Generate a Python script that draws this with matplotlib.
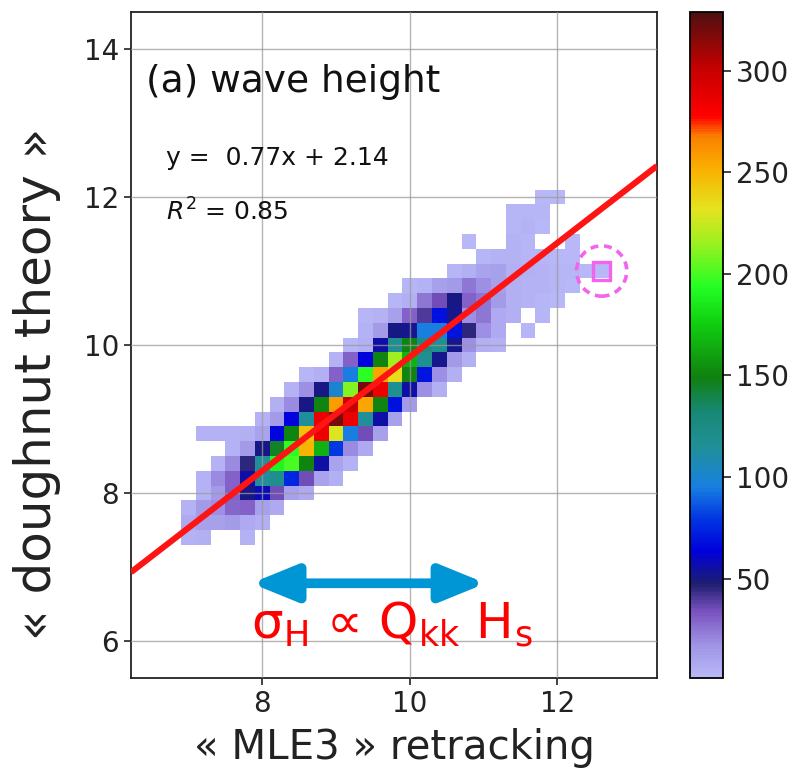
import numpy as np
import matplotlib
matplotlib.use("Agg")
import matplotlib.pyplot as plt
from matplotlib.colors import LinearSegmentedColormap, Normalize
from matplotlib.patches import Ellipse, Rectangle, FancyArrowPatch

# ---------------- data ----------------
# bin centres (0.2 bins)
x_centers = np.round(6.8 + 0.2 * np.arange(30), 1)   # 6.8 ... 12.6
y_centers = np.round(7.4 + 0.2 * np.arange(24), 1)   # 7.4 ... 12.0

# counts per bin, rows listed from top (y=12.0) to bottom (y=7.4)
counts_top_down = [
    [0,0,0,0,0, 0,0,0,0,0, 0,0,0,0,0, 0,0,0,0,0, 0,0,0,0,0, 2,2,0,0,0],
    [0,0,0,0,0, 0,0,0,0,0, 0,0,0,0,0, 0,0,0,0,0, 0,0,0,3,3, 3,0,0,0,0],
    [0,0,0,0,0, 0,0,0,0,0, 0,0,0,0,0, 0,0,0,0,0, 0,0,0,3,4, 2,0,0,0,0],
    [0,0,0,0,0, 0,0,0,0,0, 0,0,0,0,0, 0,0,0,0,0, 2,0,0,4,3, 0,0,2,0,0],
    [0,0,0,0,0, 0,0,0,0,0, 0,0,0,0,0, 0,0,0,0,0, 0,3,4,4,3, 3,2,2,0,0],
    [0,0,0,0,0, 0,0,0,0,0, 0,0,0,0,0, 0,0,0,0,3, 5,10,12,6,5, 4,3,3,2,2],
    [0,0,0,0,0, 0,0,0,0,0, 0,0,0,0,0, 0,3,4,12,15, 25,18,12,6,4, 4,3,2,0,0],
    [0,0,0,0,0, 0,0,0,0,0, 0,0,0,0,0, 3,5,25,35,50, 30,25,15,6,4, 3,2,0,0,0],
    [0,0,0,0,0, 0,0,0,0,0, 0,0,0,3,4, 12,30,40,68,52, 18,25,8,5,0, 3,0,0,0,0],
    [0,0,0,0,0, 0,0,0,0,0, 0,0,0,4,15, 50,52,95,95,70, 45,18,8,0,3, 0,0,0,0,0],
    [0,0,0,0,0, 0,0,0,0,0, 0,0,3,6,55, 118,150,125,118,52, 18,6,4,0,0, 0,0,0,0,0],
    [0,0,0,0,0, 0,0,0,0,0, 0,4,30,65,150, 215,165,118,52,15, 5,0,0,0,0, 0,0,0,0,0],
    [0,0,0,0,0, 0,0,0,0,3, 5,30,95,195,255, 235,150,70,18,5, 0,0,0,0,0, 0,0,0,0,0],
    [0,0,0,0,0, 0,0,0,4,18, 50,100,210,320,285, 118,55,18,6,0, 0,0,0,0,0, 0,0,0,0,0],
    [0,0,0,0,0, 0,0,5,20,50, 150,258,300,255,150, 68,15,0,0,0, 0,0,0,0,0, 0,0,0,0,0],
    [0,0,0,0,0, 0,4,15,65,115, 285,320,285,115,55, 12,0,0,0,0, 0,0,0,0,0, 0,0,0,0,0],
    [0,0,4,4,4, 5,10,65,150,245, 285,230,95,35,12, 0,0,0,0,0, 0,0,0,0,0, 0,0,0,0,0],
    [0,0,0,0,4, 15,50,145,195,250, 165,80,20,8,0, 0,0,0,0,0, 0,0,0,0,0, 0,0,0,0,0],
    [0,0,0,4,20, 45,115,190,200,150, 55,10,4,0,0, 0,0,0,0,0, 0,0,0,0,0, 0,0,0,0,0],
    [0,0,4,20,30, 55,115,120,75,35, 10,5,0,0,0, 0,0,0,0,0, 0,0,0,0,0, 0,0,0,0,0],
    [0,0,4,15,30, 50,58,35,12,8, 0,0,0,0,0, 0,0,0,0,0, 0,0,0,0,0, 0,0,0,0,0],
    [0,4,15,18,28, 30,12,8,0,0, 0,0,0,0,0, 0,0,0,0,0, 0,0,0,0,0, 0,0,0,0,0],
    [0,8,12,12,15, 8,5,0,0,0, 0,0,0,0,0, 0,0,0,0,0, 0,0,0,0,0, 0,0,0,0,0],
    [0,4,5,0,0, 4,0,0,0,0, 0,0,0,0,0, 0,0,0,0,0, 0,0,0,0,0, 0,0,0,0,0],
]

fit_slope = 0.77
fit_intercept = 2.14
r_squared = 0.85

x_ticks = [8, 10, 12]
y_ticks = [6, 8, 10, 12, 14]
cbar_ticks = [50, 100, 150, 200, 250, 300]
count_min, count_max = 1, 329

highlight_x, highlight_y = 12.6, 11.0
arrow_x_start, arrow_x_end, arrow_y = 7.85, 11.03, 6.78

# ---------------- colormap ----------------
cmap_stops = [
    (0.000, (184, 184, 248)),
    (0.049, (158, 146, 228)),
    (0.098, (122, 82, 192)),
    (0.140, (30, 30, 112)),
    (0.189, (0, 0, 220)),
    (0.235, (0, 50, 226)),
    (0.287, (24, 128, 224)),
    (0.348, (32, 144, 150)),
    (0.399, (24, 136, 118)),
    (0.451, (16, 128, 16)),
    (0.534, (16, 208, 16)),
    (0.588, (36, 255, 36)),
    (0.656, (160, 240, 32)),
    (0.704, (228, 228, 32)),
    (0.765, (250, 176, 0)),
    (0.814, (250, 128, 0)),
    (0.845, (255, 0, 0)),
    (0.918, (196, 0, 0)),
    (1.000, (80, 16, 16)),
]
cmap = LinearSegmentedColormap.from_list(
    "custom", [(p, tuple(c / 255 for c in rgb)) for p, rgb in cmap_stops])

# ---------------- figure ----------------
fig = plt.figure(figsize=(7.92, 7.71), dpi=100)
ax = fig.add_axes([131 / 792, 93 / 771, 526 / 792, 666 / 771])
cax = fig.add_axes([690 / 792, 93 / 771, 33 / 792, 666 / 771])

counts = np.array(counts_top_down[::-1], dtype=float)
counts = np.ma.masked_equal(counts, 0)
x_edges = np.append(x_centers - 0.1, x_centers[-1] + 0.1)
y_edges = np.append(y_centers - 0.1, y_centers[-1] + 0.1)

norm = Normalize(count_min, count_max)
mesh = ax.pcolormesh(x_edges, y_edges, counts, cmap=cmap, norm=norm, zorder=1)

ax.set_xlim(6.22, 13.35)
ax.set_ylim(5.5, 14.5)
ax.set_xticks(x_ticks)
ax.set_yticks(y_ticks)
ax.grid(True, color="#9a9a9a", lw=1.0, alpha=0.75, zorder=2)
ax.set_axisbelow(False)
ax.tick_params(labelsize=20, length=5, width=1.2, direction="out", colors="#222222")
for s in ax.spines.values():
    s.set_linewidth(1.3)
    s.set_color("#222222")

# regression line
xx = np.array(ax.get_xlim())
ax.plot(xx, fit_slope * xx + fit_intercept, color="#ff1414", lw=4.4,
        solid_capstyle="butt", zorder=4)

# texts
ax.text(6.43, 13.55, "(a) wave height", fontsize=27, va="center", ha="left",
        color="#111111", zorder=5)
ax.text(6.70, 12.53, f"y =  {fit_slope:.2f}x + {fit_intercept:.2f}", fontsize=18,
        va="center", ha="left", color="#111111", zorder=5)
ax.text(6.70, 11.80, f"$R^2$ = {r_squared:.2f}", fontsize=18,
        va="center", ha="left", color="#111111", zorder=5)

# highlighted cell
ax.add_patch(Ellipse((highlight_x, highlight_y), 0.68, 0.68, fill=False,
                     edgecolor="#f264ee", lw=2.6, ls=(0, (2.2, 1.6)), zorder=5))
ax.add_patch(Rectangle((highlight_x - 0.115, highlight_y - 0.115), 0.23, 0.23,
                       fill=False, edgecolor="#f264ee", lw=2.4, zorder=5))

# blue double arrow
arrow = FancyArrowPatch((arrow_x_start, arrow_y), (arrow_x_end, arrow_y),
                        arrowstyle="<|-|>,head_length=27,head_width=11",
                        mutation_scale=1, lw=7, color="#0096d6",
                        shrinkA=0, shrinkB=0, zorder=6)
arrow.set_joinstyle("round")
ax.add_patch(arrow)

ax.text(7.84, 6.04,
        r"σ$_\mathregular{H}$ ∝ Q$_\mathregular{kk}$ H$_\mathregular{s}$",
        fontsize=36, color="#ff0000", ha="left", va="baseline", zorder=6)

# axis labels
ax.set_xlabel("« MLE3 » retracking", fontsize=29, labelpad=7, color="#222222")
fig.text(37 / 792, 1 - 384 / 771, "« doughnut theory »", fontsize=36,
         rotation=90, ha="center", va="center", color="#222222")

# colorbar
cb = fig.colorbar(mesh, cax=cax, ticks=cbar_ticks)
cb.outline.set_linewidth(1.3)
cax.tick_params(labelsize=20, length=6, width=1.2, colors="#222222")

fig.savefig("out.png", dpi=100)
